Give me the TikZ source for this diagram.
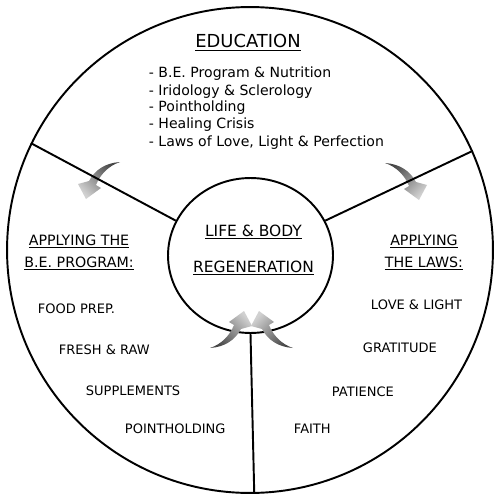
\documentclass[tikz,border=0pt]{standalone}
\usepackage{fontspec}
\setmainfont{DejaVu Sans}
\usetikzlibrary{shapes.geometric}
\begin{document}
\begin{tikzpicture}[x=0.02cm, y=-0.02cm, line width=1.1pt]
    % Styles
    \tikzset{
      title/.style={font=\fontsize{10.2}{12}\selectfont, inner sep=0pt},
      topic/.style={font=\fontsize{8}{10}\selectfont, inner sep=0pt, anchor=base west},
      core text/.style={font=\fontsize{8.8}{11}\selectfont, inner sep=0pt, anchor=base},
      side head/.style={font=\fontsize{8.1}{10}\selectfont, inner sep=0pt, anchor=base},
      step item/.style={font=\fontsize{7.4}{9}\selectfont, inner sep=0pt, anchor=base west},
      arrow shade/.style={top color=black!72, bottom color=black!18},
      pics/bend arrow/.style={code={
        \shade[arrow shade, shading angle=#1] (0,0) .. controls (-15,1) and (-25,8) .. (-31,19)
          -- (-42,22) -- (-34,37) -- (-19,26) -- (-24,23)
          .. controls (-20,13) and (-12,4) .. (0,0) -- cycle;
      }}
    }
    \useasboundingbox (0,0) rectangle (500,500);

    % Outer wheel and centre
    \node[draw, circle, minimum size=9.72cm, inner sep=0pt] (rim) at (250,250) {};
    \node[draw, ellipse, minimum width=3.3cm, minimum height=3.1cm, inner sep=0pt] (core) at (250.5,255.5) {};

    % Curved arrows
    \pic (arrL) at (120,162) {bend arrow=-45};
    \pic[xscale=-1] (arrR) at (385,163) {bend arrow=45};
    \pic[rotate=180] (arrBL) at (210,348) {bend arrow=135};
    \pic[yscale=-1] (arrBR) at (293,348) {bend arrow=-135};

    % Spokes
    \draw (rim.154) -- (core.155);
    \draw (rim.24) -- (core.25);
    \draw (rim.-89.5) -- (core.south);

    % Education
    \node[title, anchor=base] (edu) at (248,48) {\underline{EDUCATION}};
    \foreach \txt [count=\i] in {B.E. Program \& Nutrition, Iridology \& Sclerology,
        Pointholding, Healing Crisis, {Laws of Love, Light \& Perfection}}
      \node[topic] (edu\i) at (148,61+17*\i) {- \txt};

    % Centre
    \node[core text] (life) at (253.5,236) {\underline{LIFE \& BODY}};
    \node[core text] (regen) at (253.5,272) {\underline{REGENERATION}};

    % Applying the B.E. program
    \node[side head] (prog1) at (79,245) {\underline{APPLYING THE}};
    \node[side head] (prog2) at (79,267) {\underline{B.E. PROGRAM:}};
    \node[step item] (food) at (37,313) {FOOD PREP.};
    \node[step item] (fresh) at (58,354) {FRESH \& RAW};
    \node[step item] (supp) at (85,395) {SUPPLEMENTS};
    \node[step item] (point) at (124,433) {POINTHOLDING};

    % Applying the laws
    \node[side head] (laws1) at (424,245) {\underline{APPLYING}};
    \node[side head] (laws2) at (424,267) {\underline{THE LAWS:}};
    \node[step item] (love) at (370,309) {LOVE \& LIGHT};
    \node[step item] (grat) at (362,352) {GRATITUDE};
    \node[step item] (pat) at (331,396) {PATIENCE};
    \node[step item] (faith) at (293,433) {FAITH};
\end{tikzpicture}
\end{document}
